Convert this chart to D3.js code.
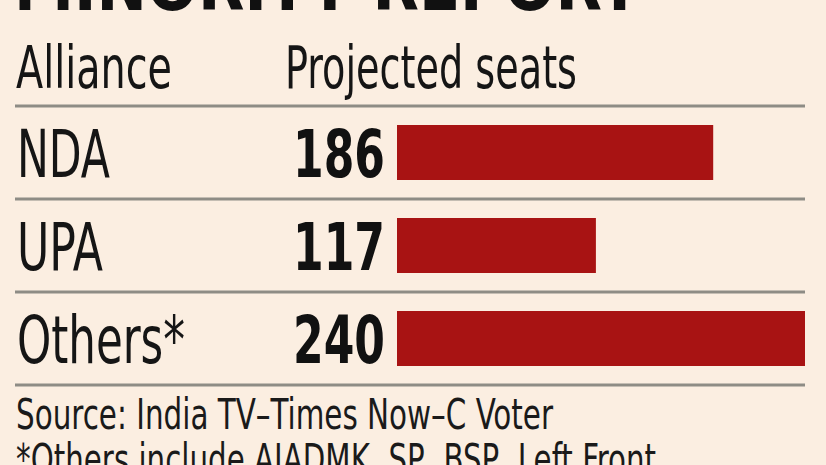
<!DOCTYPE html>
<html><head><meta charset="utf-8">
<script src="https://cdn.jsdelivr.net/npm/d3@7"></script>
<style>
html,body{margin:0;padding:0;background:#fbeee1;}
svg{display:block;}
</style></head>
<body>
<script>
const title = "MINORITY REPORT";
const headers = ["Alliance", "Projected seats"];
const categories = ["NDA", "UPA", "Others*"];
const seats = [186, 117, 240];
const notes = ["Source: India TV\u2013Times Now\u2013C Voter", "*Others include AIADMK, SP, BSP, Left Front"];

const W = 826, H = 465;
const font = "'Liberation Sans Narrow','DejaVu Sans Condensed','Roboto Condensed',sans-serif";
const svg = d3.select("body").append("svg").attr("width", W).attr("height", H);
svg.append("rect").attr("width", W).attr("height", H).attr("fill", "#fbeee1");

// title (cut off at top)
svg.append("text").attr("x", 14).attr("y", 10)
  .attr("font-family", font).attr("font-weight", "bold").attr("font-size", 72)
  .attr("textLength", 626).attr("lengthAdjust", "spacingAndGlyphs")
  .attr("fill", "#111").text(title);

// headers
svg.append("text").attr("x", 16).attr("y", 88).attr("font-family", font).attr("font-size", 58)
  .attr("textLength", 156).attr("lengthAdjust", "spacingAndGlyphs").attr("fill", "#151515").text(headers[0]);
svg.append("text").attr("x", 285).attr("y", 88).attr("font-family", font).attr("font-size", 58)
  .attr("textLength", 292).attr("lengthAdjust", "spacingAndGlyphs").attr("fill", "#151515").text(headers[1]);

const y = d3.scaleBand().domain(categories).range([106, 385]).padding(0);
const x = d3.scaleLinear().domain([0, 240]).range([397, 805]);

// rules
const ruleYs = [106].concat(categories.map(c => y(c) + y.bandwidth()));
svg.selectAll("line.rule").data(ruleYs).join("line").attr("class", "rule")
  .attr("x1", 15).attr("x2", 805).attr("y1", d => d).attr("y2", d => d)
  .attr("stroke", "#8e8c85").attr("stroke-width", 3);

const labelW = {"NDA": 93, "UPA": 86, "Others*": 168};
const rows = svg.selectAll("g.row").data(categories).join("g").attr("class", "row");
rows.append("rect")
  .attr("x", x(0)).attr("y", d => y(d) + y.bandwidth() / 2 - 27.5)
  .attr("width", (d, i) => x(seats[i]) - x(0)).attr("height", 55)
  .attr("fill", "#a81313");
rows.append("text").attr("x", 17).attr("y", d => y(d) + y.bandwidth() / 2 + 24)
  .attr("font-family", font).attr("font-size", 66).attr("fill", "#151515")
  .attr("textLength", d => labelW[d]).attr("lengthAdjust", "spacingAndGlyphs")
  .text(d => d);
rows.append("text").attr("x", 385).attr("y", d => y(d) + y.bandwidth() / 2 + 24)
  .attr("text-anchor", "end")
  .attr("font-family", font).attr("font-weight", "bold").attr("font-size", 66).attr("fill", "#111")
  .attr("textLength", 92).attr("lengthAdjust", "spacingAndGlyphs")
  .text((d, i) => seats[i]);

// notes
svg.append("text").attr("x", 16).attr("y", 429).attr("font-family", font).attr("font-size", 42)
  .attr("textLength", 537).attr("lengthAdjust", "spacingAndGlyphs").attr("fill", "#1a1a1a").text(notes[0]);
svg.append("text").attr("x", 16).attr("y", 474).attr("font-family", font).attr("font-size", 42)
  .attr("textLength", 640).attr("lengthAdjust", "spacingAndGlyphs").attr("fill", "#1a1a1a").text(notes[1]);
</script>
</body></html>
